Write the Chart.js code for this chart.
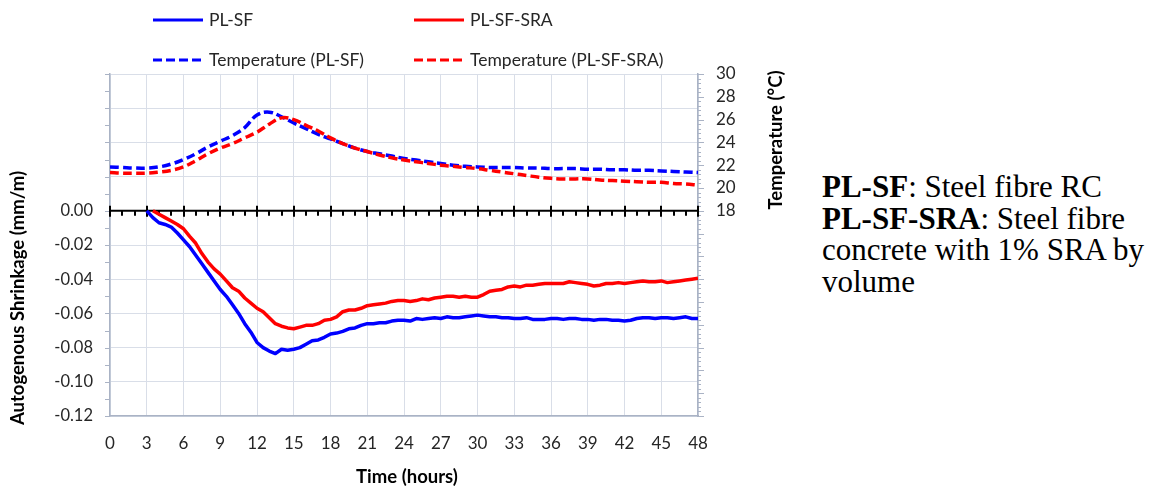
<!DOCTYPE html>
<html>
<head>
<meta charset="utf-8">
<script src="https://cdn.jsdelivr.net/npm/chart.js@4"></script>
<style>
  html, body { margin: 0; padding: 0; background: #fff; }
  #wrap { position: relative; width: 1158px; height: 486px; }
  #box { position: absolute; left: 0; top: 0; width: 790px; height: 486px; }
  #note {
    position: absolute; left: 822px; top: 171px; width: 336px;
    font-family: "Liberation Serif", "Times New Roman", serif;
    font-size: 31px; line-height: 31.5px; color: #000; white-space: nowrap;
  }
</style>
</head>
<body>
<div id="wrap">
  <div id="box"><canvas id="chart" width="790" height="486"></canvas></div>
  <div id="note">
    <b>PL-SF</b>: Steel fibre RC<br>
    <b>PL-SF-SRA</b>: Steel fibre<br>
    concrete with 1% SRA by<br>
    volume
  </div>
</div>
<script>
// shrinkage readings (hours, mm/m)
const shrinkHours = [
  3.0, 3.5, 4.0, 4.5, 5.0, 5.5, 6.0, 6.5, 7.0, 7.5, 8.0, 8.5, 9.0, 9.5, 10.0, 10.5,
  11.0, 11.5, 12.0, 12.5, 13.0, 13.5, 14.0, 14.5, 15.0, 15.5, 16.0, 16.5, 17.0, 17.5,
  18.0, 18.5, 19.0, 19.5, 20.0, 20.5, 21.0, 21.5, 22.0, 22.5, 23.0, 23.5, 24.0, 24.5,
  25.0, 25.5, 26.0, 26.5, 27.0, 27.5, 28.0, 28.5, 29.0, 29.5, 30.0, 30.5, 31.0, 31.5,
  32.0, 32.5, 33.0, 33.5, 34.0, 34.5, 35.0, 35.5, 36.0, 36.5, 37.0, 37.5, 38.0, 38.5,
  39.0, 39.5, 40.0, 40.5, 41.0, 41.5, 42.0, 42.5, 43.0, 43.5, 44.0, 44.5, 45.0, 45.5,
  46.0, 46.5, 47.0, 47.5, 48.0
]
const shrinkSF = [
  0.000, -0.004, -0.007, -0.008, -0.0095, -0.013, -0.017, -0.021, -0.026, -0.031, -0.036, -0.041, -0.046, -0.050, -0.055, -0.060,
  -0.066, -0.071, -0.077, -0.080, -0.082, -0.0835, -0.081, -0.0815, -0.081, -0.080, -0.078, -0.076, -0.0755, -0.074,
  -0.072, -0.0715, -0.0705, -0.069, -0.0685, -0.067, -0.066, -0.066, -0.0655, -0.0655, -0.0645, -0.064, -0.064, -0.0645,
  -0.063, -0.0635, -0.063, -0.0625, -0.063, -0.062, -0.0625, -0.0625, -0.062, -0.0615, -0.061, -0.0615, -0.062, -0.062,
  -0.0625, -0.0625, -0.063, -0.063, -0.0625, -0.0635, -0.0635, -0.0635, -0.063, -0.063, -0.0635, -0.063, -0.063, -0.0635,
  -0.0635, -0.064, -0.0635, -0.0635, -0.064, -0.064, -0.0645, -0.064, -0.063, -0.0625, -0.0625, -0.063, -0.0625, -0.0625,
  -0.063, -0.0625, -0.062, -0.063, -0.063
]
const shrinkSRA = [
  null, 0.000, -0.002, -0.004, -0.006, -0.008, -0.0105, -0.015, -0.019, -0.025, -0.030, -0.034, -0.037, -0.041, -0.045, -0.047,
  -0.051, -0.054, -0.057, -0.059, -0.0625, -0.066, -0.0675, -0.0685, -0.069, -0.068, -0.067, -0.067, -0.066, -0.064,
  -0.0635, -0.062, -0.059, -0.058, -0.058, -0.057, -0.0555, -0.055, -0.0545, -0.054, -0.053, -0.0525, -0.0525, -0.053,
  -0.0525, -0.0515, -0.052, -0.051, -0.0505, -0.050, -0.050, -0.0505, -0.050, -0.0505, -0.0505, -0.049, -0.047, -0.0465,
  -0.046, -0.0445, -0.044, -0.0445, -0.0435, -0.0435, -0.043, -0.0425, -0.0425, -0.0425, -0.0425, -0.0415, -0.042, -0.0425,
  -0.043, -0.044, -0.0435, -0.0425, -0.0425, -0.042, -0.0425, -0.042, -0.0415, -0.041, -0.0415, -0.0415, -0.041, -0.042,
  -0.0415, -0.041, -0.0405, -0.040, -0.0395
]

// temperature readings (hours, °C)
const tempHours = [
  0, 1, 2, 3, 4, 5, 6, 7, 8, 9, 10, 11, 12, 13, 14, 15, 16, 17, 18, 19, 20, 21, 22, 23, 24,
  25, 26, 27, 28, 29, 30, 31, 32, 33, 34, 35, 36, 37, 38, 39, 40, 41, 42, 43, 44, 45, 46, 47, 48
]
const tempSF = [
  21.85, 21.8, 21.75, 21.75, 21.85, 22.1, 22.5, 23.0, 23.6, 24.1, 24.6, 25.3, 26.4, 26.65, 26.25, 25.7,
  25.2, 24.7, 24.3, 23.9, 23.5, 23.2, 23.0, 22.8, 22.6, 22.45, 22.3, 22.15, 22.0, 21.9, 21.85, 21.8,
  21.8, 21.8, 21.75, 21.75, 21.7, 21.7, 21.7, 21.65, 21.65, 21.6, 21.6, 21.55, 21.55, 21.5, 21.45, 21.4, 21.35
]
const tempSRA = [
  21.35, 21.3, 21.3, 21.3, 21.4, 21.55, 21.85, 22.4, 23.0, 23.5, 23.9, 24.4, 24.9, 25.6, 26.15, 26.0,
  25.5, 25.0, 24.4, 23.9, 23.5, 23.2, 22.9, 22.65, 22.45, 22.3, 22.15, 22.0, 21.9, 21.8, 21.7, 21.55,
  21.4, 21.25, 21.1, 20.95, 20.85, 20.8, 20.8, 20.8, 20.7, 20.65, 20.6, 20.55, 20.5, 20.5, 20.4, 20.35, 20.25
]

const BLUE = '#0000ff'
const RED = '#ff0000'
const GRID = '#d9dee8'
const AXIS = '#aab3c5'
const TXT = '#262626'
const FONT = 'Lato, "Open Sans", sans-serif'

const pts = (xs, ys) => xs.map((x, i) => ({ x: x, y: ys[i] }))

const legendItems = [
  { label: 'PL-SF', color: BLUE, dash: [], x: 153, y: 20 },
  { label: 'PL-SF-SRA', color: RED, dash: [], x: 414, y: 20 },
  { label: 'Temperature (PL-SF)', color: BLUE, dash: [9, 4], x: 153, y: 60 },
  { label: 'Temperature (PL-SF-SRA)', color: RED, dash: [9, 4], x: 414, y: 60 },
]

// axis extras: zero line with ticks, minor ticks, titles, legend
const extras = {
  id: 'extras',
  beforeDatasetsDraw(chart) {
    const { ctx, chartArea: a, scales } = chart
    const x = scales.x, y = scales.y, y2 = scales.y2
    ctx.save()
    ctx.strokeStyle = AXIS
    ctx.lineWidth = 1
    // left ticks every 0.01
    for (let i = -12; i <= 8; i++) {
      const py = Math.round(y.getPixelForValue(i / 100)) + 0.5
      ctx.beginPath(); ctx.moveTo(a.left - 5, py); ctx.lineTo(a.left, py); ctx.stroke()
    }
    // right ticks every 0.4, longer every 2
    for (let i = 0; i <= 75; i++) {
      const py = Math.round(y2.getPixelForValue(i * 0.4)) + 0.5
      const len = i % 5 === 0 ? 6 : 3
      ctx.beginPath(); ctx.moveTo(a.right, py); ctx.lineTo(a.right + len, py); ctx.stroke()
    }
    // zero line
    const y0 = y.getPixelForValue(0)
    ctx.strokeStyle = '#000'
    ctx.lineWidth = 2
    ctx.beginPath(); ctx.moveTo(a.left, y0); ctx.lineTo(a.right, y0); ctx.stroke()
    for (let h = 0; h <= 48; h++) {
      const px = Math.round(x.getPixelForValue(h))
      ctx.beginPath()
      if (h % 3 === 0) { ctx.moveTo(px, y0 - 5); ctx.lineTo(px, y0 + 6) }
      else { ctx.moveTo(px, y0); ctx.lineTo(px, y0 + 5) }
      ctx.stroke()
    }
    ctx.restore()
  },
  afterDraw(chart) {
    const { ctx } = chart
    ctx.save()
    ctx.fillStyle = '#000'
    ctx.font = 'bold 18.5px ' + FONT
    ctx.textAlign = 'center'
    ctx.textBaseline = 'middle'
    ctx.fillText('Time (hours)', 407, 477)
    ctx.save()
    ctx.translate(18, 298)
    ctx.rotate(-Math.PI / 2)
    ctx.fillText('Autogenous Shrinkage (mm/m)', 0, 0)
    ctx.restore()
    ctx.save()
    ctx.translate(776, 140)
    ctx.rotate(-Math.PI / 2)
    ctx.fillText('Temperature (°C)', 0, 0)
    ctx.restore()
    // legend
    ctx.font = '17.5px ' + FONT
    ctx.textAlign = 'left'
    legendItems.forEach(it => {
      ctx.strokeStyle = it.color
      ctx.lineWidth = 3
      ctx.setLineDash(it.dash)
      ctx.beginPath(); ctx.moveTo(it.x, it.y); ctx.lineTo(it.x + 50, it.y); ctx.stroke()
      ctx.fillStyle = TXT
      ctx.fillText(it.label, it.x + 56, it.y)
    })
    ctx.restore()
  }
}

new Chart(document.getElementById('chart'), {
  type: 'line',
  data: {
    datasets: [
      { label: 'PL-SF', data: pts(shrinkHours, shrinkSF), yAxisID: 'y', borderColor: BLUE, borderWidth: 3.5, order: 2 },
      { label: 'PL-SF-SRA', data: pts(shrinkHours, shrinkSRA), yAxisID: 'y', borderColor: RED, borderWidth: 3.5, order: 1 },
      { label: 'Temperature (PL-SF)', data: pts(tempHours, tempSF), yAxisID: 'y2', borderColor: BLUE, borderWidth: 3.5, borderDash: [9, 4], tension: 0.4, order: 4 },
      { label: 'Temperature (PL-SF-SRA)', data: pts(tempHours, tempSRA), yAxisID: 'y2', borderColor: RED, borderWidth: 3.5, borderDash: [9, 4], tension: 0.4, order: 3 },
    ],
  },
  options: {
    responsive: false,
    animation: false,
    layout: { padding: { top: 74, left: 0, right: 0, bottom: 0 } },
    elements: { point: { radius: 0 }, line: { borderJoinStyle: 'round', borderCapStyle: 'butt' } },
    plugins: { legend: { display: false }, tooltip: { enabled: false } },
    scales: {
      x: {
        type: 'linear', min: 0, max: 48,
        afterFit: s => { s.height = 70 },
        grid: { color: GRID, drawTicks: false },
        border: { color: AXIS, width: 1.5 },
        ticks: { stepSize: 3, autoSkip: false, maxRotation: 0, padding: 17, color: TXT, font: { family: FONT, size: 17 } },
      },
      y: {
        position: 'left', min: -0.12, max: 0.08,
        afterFit: s => { s.width = 110 },
        grid: { color: GRID, drawTicks: false },
        border: { color: AXIS, width: 1.5 },
        ticks: {
          stepSize: 0.02, autoSkip: false, padding: 17, color: TXT, font: { family: FONT, size: 16.5 },
          callback: v => (v <= 0.0001 ? (Math.abs(v) < 1e-6 ? 0 : v).toFixed(2) : ''),
        },
      },
      y2: {
        position: 'right', min: 0, max: 30,
        afterFit: s => { s.width = 92 },
        grid: { drawOnChartArea: false, drawTicks: false },
        border: { color: AXIS, width: 1.5 },
        ticks: {
          stepSize: 2, autoSkip: false, padding: 18, color: TXT, font: { family: FONT, size: 17 },
          callback: v => (v >= 18 ? String(v) : ''),
        },
      },
    },
  },
  plugins: [extras],
})
</script>
</body>
</html>
